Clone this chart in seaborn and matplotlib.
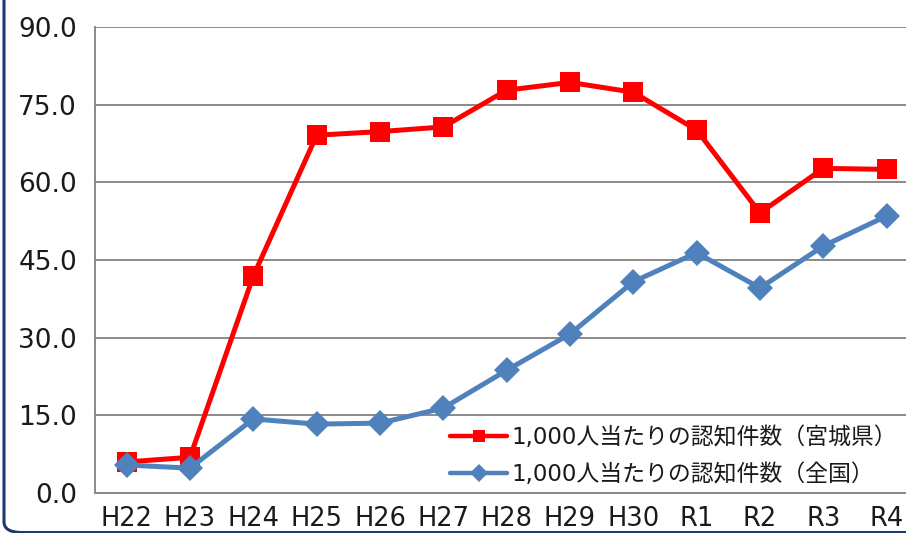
import matplotlib
matplotlib.use('Agg')
import matplotlib.pyplot as plt
import seaborn as sns
import pandas as pd
from matplotlib.lines import Line2D
from matplotlib.patches import FancyBboxPatch
from matplotlib.ticker import FixedLocator, FormatStrFormatter, NullFormatter

years = ["H22", "H23", "H24", "H25", "H26", "H27", "H28", "H29", "H30", "R1", "R2", "R3", "R4"]
miyagi = [6.0, 6.9, 41.9, 69.1, 69.8, 70.7, 77.8, 79.3, 77.4, 70.1, 54.1, 62.7, 62.5]
national = [5.4, 4.8, 14.3, 13.3, 13.5, 16.4, 23.7, 30.7, 40.8, 46.4, 39.6, 47.7, 53.5]
label_miyagi = "1,000人当たりの認知件数（宮城県）"
label_national = "1,000人当たりの認知件数（全国）"
y_ticks = [0, 15, 30, 45, 60, 75, 90]

red = "#FF0000"
blue = "#4F81BD"
grid_c = "#8A8A8A"
text_c = "#1a1a1a"

sns.set_theme(style="white")
plt.rcParams['font.family'] = ['DejaVu Sans', 'Noto Sans CJK JP']

W, H = 906, 533
fig = plt.figure(figsize=(W / 100, H / 100), dpi=100)
left, right, top, bottom = 95, 918.3, 27, 493
ax = fig.add_axes([left / W, (H - bottom) / H, (right - left) / W, (bottom - top) / H])

pos = list(range(len(years)))
df = pd.DataFrame({"pos": pos, "miyagi": miyagi, "national": national})

sns.lineplot(data=df, x="pos", y="miyagi", ax=ax, color=red, linewidth=3.6,
             marker="s", markersize=14, markeredgewidth=0, zorder=3)
sns.lineplot(data=df, x="pos", y="national", ax=ax, color=blue, linewidth=3.6,
             marker="D", markersize=13, markeredgewidth=0, zorder=4)

ax.set_xlim(-0.5, len(years) - 0.5)
ax.set_ylim(0, 90)
ax.set_xlabel("")
ax.set_ylabel("")

ax.yaxis.set_major_locator(FixedLocator(y_ticks))
ax.yaxis.set_major_formatter(FormatStrFormatter("%.1f"))
ax.xaxis.set_major_locator(FixedLocator(pos))
ax.set_xticklabels(years)
ax.xaxis.set_minor_locator(FixedLocator([p - 0.5 for p in pos] + [len(years) - 0.5]))
ax.xaxis.set_minor_formatter(NullFormatter())

ax.tick_params(axis='x', which='major', length=0, pad=9, labelsize=18.5, labelcolor=text_c)
ax.tick_params(axis='x', which='minor', length=7, width=1.3, color=grid_c, direction='out')
ax.tick_params(axis='y', which='major', length=7, width=1.3, color=grid_c, direction='out',
               pad=6, labelsize=19, labelcolor=text_c)

ax.grid(axis='y', color=grid_c, linewidth=1.4)
ax.grid(axis='x', visible=False)
for s in ["top", "right"]:
    ax.spines[s].set_visible(False)
for s in ["left", "bottom"]:
    ax.spines[s].set_color(grid_c)
    ax.spines[s].set_linewidth(1.4)

handles = [
    Line2D([], [], color=red, linewidth=3.2, marker="s", markersize=9, markeredgewidth=0),
    Line2D([], [], color=blue, linewidth=3.2, marker="D", markersize=9, markeredgewidth=0),
]
leg = fig.legend(handles, [label_miyagi, label_national], loc="upper left",
                 bbox_to_anchor=(450 / W, (H - 426) / H), frameon=False, fontsize=16.5,
                 handlelength=2.5, handletextpad=0.2, labelspacing=0.6, borderpad=0,
                 borderaxespad=0)
for t in leg.get_texts():
    t.set_color(text_c)

border = FancyBboxPatch((4 / W, 0.5 / H), 1.2, 1.2, boxstyle="round,pad=0,rounding_size=0.02",
                        transform=fig.transFigure, fill=False, edgecolor="#1F3A73",
                        linewidth=2.2, clip_on=False)
fig.patches.append(border)

fig.savefig("out.png", dpi=100)
